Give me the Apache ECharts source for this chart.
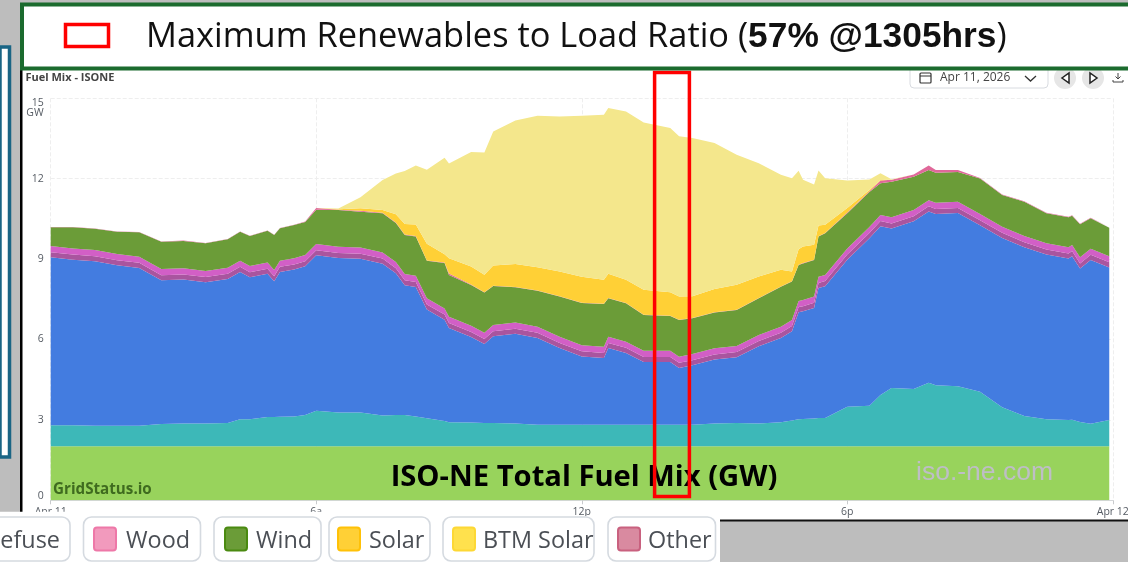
<!DOCTYPE html>
<html><head><meta charset="utf-8">
<style>html,body{margin:0;padding:0;background:#bdbdbd}#c{width:1128px;height:562px}</style>
<script src="https://cdn.jsdelivr.net/npm/echarts@6/dist/echarts.min.js"></script></head>
<body><div id="c"></div>
<script>
const hours=[0,.5,1,1.5,2,2.5,3,3.5,4,4.28,4.5,4.9,5.05,5.18,5.5,5.75,6,6.5,7,7.5,7.8,8,8.25,8.5,8.9,9,9.5,9.8,10,10.5,11,11.5,12,12.5,12.6,13,13.4,14,14.2,14.5,15,15.5,16,16.5,16.75,16.9,17,17.25,17.35,17.5,18,18.5,18.75,19,19.5,19.84,20,20.5,21,21.5,22,22.5,23,23.08,23.26,23.5,23.92];
const nuclear=[2.02,2.02,2.02,2.02,2.02,2.02,2.02,2.02,2.02,2.02,2.02,2.02,2.02,2.02,2.02,2.02,2.02,2.02,2.02,2.02,2.02,2.02,2.02,2.02,2.02,2.02,2.02,2.02,2.02,2.02,2.02,2.02,2.02,2.02,2.02,2.02,2.02,2.02,2.02,2.02,2.02,2.02,2.02,2.02,2.02,2.02,2.02,2.02,2.02,2.02,2.02,2.02,2.02,2.02,2.02,2.02,2.02,2.02,2.02,2.02,2.02,2.02,2.02,2.02,2.02,2.02,2.02];
const hydro=[.78,.78,.76,.76,.76,.83,.85,.85,.86,1,1,1.09,1.09,1.1,1.11,1.16,1.32,1.26,1.26,1.14,1.16,1.16,1.11,1.04,.94,.89,.88,.86,.86,.85,.8,.8,.8,.8,.8,.8,.8,.8,.8,.8,.85,.86,.85,.89,.96,1,1.01,1.03,1.05,1.05,1.47,1.51,1.91,2.17,2.13,2.37,2.27,2.24,2.03,1.45,1.13,1,.98,.99,.9,.84,.98];
const gas=[6.27,6.18,6.14,5.99,5.89,5.36,5.37,5.27,5.38,5.5,5.3,5.34,5.06,5.4,5.48,5.55,5.8,5.76,5.73,5.67,5.29,4.84,4.83,4.06,3.78,3.52,3.19,2.95,3.24,3.34,3.24,2.86,2.55,2.49,2.86,2.68,2.34,2.34,2.12,2.22,2.38,2.46,2.88,3.15,3.33,4,4.02,4.13,4.85,4.92,5.49,6.25,6.3,5.95,6.26,6.39,6.39,6.46,6.21,6.32,6.29,6.15,6.02,6.1,5.73,6.11,5.69];
const refuse=[.19,.19,.19,.19,.19,.19,.19,.19,.19,.19,.19,.19,.19,.19,.19,.19,.19,.19,.19,.19,.19,.19,.19,.19,.19,.19,.19,.19,.19,.19,.19,.19,.19,.19,.19,.19,.19,.19,.19,.19,.19,.19,.19,.19,.19,.19,.19,.19,.19,.19,.19,.19,.19,.19,.19,.19,.19,.19,.19,.19,.19,.19,.19,.19,.19,.19,.19];
const wood=[.23,.23,.23,.23,.23,.23,.23,.23,.23,.23,.23,.23,.23,.23,.23,.23,.23,.23,.23,.23,.23,.23,.23,.23,.23,.23,.23,.23,.23,.23,.23,.23,.23,.23,.23,.23,.23,.23,.23,.23,.23,.23,.23,.23,.23,.23,.23,.23,.23,.23,.23,.23,.23,.23,.23,.23,.23,.23,.23,.23,.23,.23,.23,.23,.23,.23,.23];
const wind=[.7,.79,.79,.83,.91,1.02,1.02,1.03,1.06,1.08,1.12,1.19,1.31,1.21,1.24,1.23,1.28,1.37,1.34,1.46,1.46,1.46,1.46,1.4,1.69,1.56,1.52,1.5,1.46,1.32,1.34,1.5,1.57,1.59,1.44,1.43,1.33,1.3,1.37,1.33,1.34,1.34,1.37,1.49,1.43,1.34,1.37,1.37,1.5,1.55,1.31,1.3,1.18,1.33,1.24,1.12,1.12,1.11,1.33,1.18,1.28,1.12,1.12,1.09,1.23,1.13,1.06];
const other=[.01,.01,.01,.01,.01,.01,.01,.01,.01,.01,.01,.01,.01,.01,.01,.02,.07,.01,.03,.02,.02,.02,.02,.01,.02,.05,.02,.01,.01,.01,.01,.01,.01,.01,.01,.01,.01,.01,.01,.01,.01,.01,.01,.01,.01,.01,.01,.01,.01,.01,.03,.03,.1,.07,.09,.17,.1,.07,.02,.02,.02,.02,.02,.02,.02,.02,.02];
const solar=[0,0,0,0,0,0,0,0,0,0,0,0,0,0,0,0,0,.02,.1,.1,.3,.39,.43,.62,.31,.57,.67,.66,.75,.86,.87,.93,.97,.9,.9,.87,.94,.87,.86,.81,.86,.93,.8,.62,.37,.58,.62,.56,.4,.31,.17,.05,.02,0,0,0,0,0,0,0,0,0,0,0,0,0,0];
const btmSolar=[0,0,0,0,0,0,0,0,0,0,0,0,0,0,0,0,0,.03,.41,1.12,1.52,1.98,2.2,2.76,3.6,3.54,4.28,4.56,5,5.35,5.65,5.78,6.01,6.16,6.19,6.28,6.24,6.13,5.98,5.91,5.45,4.85,4.23,3.55,3.48,2.93,2.49,2.24,2.06,1.74,1.02,.39,.25,.02,0,0,0,0,0,0,0,0,0,0,0,0,0];
const xTickLabels={0:'Apr 11',6:'6a',12:'12p',18:'6p',24:'Apr 12'};
const legendLabels=['Refuse','Wood','Wind','Solar','BTM Solar','Other'];

const S=[['Nuclear',nuclear,'#98d35c'],['Hydro',hydro,'#3db8b8'],['Natural Gas',gas,'#437ce0'],['Refuse',refuse,'#a9559f'],['Wood',wood,'#d25fc6'],['Wind',wind,'#6b9c38'],['Other',other,'#e0689a'],['Solar',solar,'#ffd036'],['BTM Solar',btmSolar,'#f4e78c']];
const series=S.map(([name,vals,color])=>({name,type:'line',stack:'fuel',showSymbol:false,symbol:'none',
  encode:{x:1,y:0},
  lineStyle:{width:0},areaStyle:{color,opacity:1},itemStyle:{color},animation:false,silent:true,
  data:vals.map((v,i)=>[v,hours[i]])}));

const txt='#555b63';
const FONT='"Open Sans","Noto Sans",sans-serif';
const g=[];
const rect=(x,y,w,h,fill,z,extra)=>g.push(Object.assign({type:'rect',shape:{x,y,width:w,height:h},style:{fill},z,silent:true},extra||{}));
// page furniture
rect(22,70,1106,450,'#fff',-20);
rect(20,70,2.5,446,'#000',-15);
rect(720,519.5,408,2,'#111',-15);
rect(0,47,9.5,410,'#fff',-20,{style:{fill:'#fff',stroke:'#1a6585',lineWidth:3.5}});
// header
rect(22,4.5,1110,64,'#fff',50,{style:{fill:'#fff',stroke:'#1b6b2e',lineWidth:4}});
rect(65.5,24.5,43,22,'#fff',51,{style:{fill:'#fff',stroke:'#ff0000',lineWidth:3.5}});
g.push({type:'text',x:146,y:37,z:52,silent:true,style:{text:'{a|Maximum Renewables to Load Ratio (}{b|57% @1305hrs}{a|)}',
  verticalAlign:'middle',rich:{a:{font:'34.4px '+FONT,fill:'#111'},b:{font:'bold 35.3px "Liberation Sans",Arial,sans-serif',fill:'#111'}}}});
// selection box
rect(654.6,72.5,34.8,424,'transparent',40,{style:{fill:'transparent',stroke:'#ff0000',lineWidth:3.5}});
// toolbar
g.push({type:'text',x:25.5,y:78,z:30,silent:true,style:{text:'Fuel Mix - ISONE',font:'bold 11px "Open Sans",sans-serif',fill:'#444',verticalAlign:'middle'}});
rect(910,66,138,22,'#fff',20,{shape:{x:910,y:66,width:138,height:22,r:4},style:{fill:'#fff',stroke:'#d8dbe0',lineWidth:1}});
g.push({type:'text',x:940,y:78,z:30,silent:true,style:{text:'Apr 11, 2026',font:'12px "Open Sans",sans-serif',fill:'#444',verticalAlign:'middle'}});
rect(920,73,11,10,'#fff',30,{shape:{x:920,y:73,width:11,height:10,r:1},style:{fill:'#fff',stroke:'#333',lineWidth:1.2}});
rect(920,75.5,11,1,'#333',31);
g.push({type:'polyline',z:30,silent:true,shape:{points:[[1025,76],[1030.5,81],[1036,76]]},style:{stroke:'#333',lineWidth:1.3,fill:'none'}});
[1065,1093].forEach((cx,i)=>{
  g.push({type:'circle',z:20,silent:true,shape:{cx,cy:78,r:11},style:{fill:'#e6e6e6'}});
  const p=i==0?[[1069,73],[1069,83],[1062,78]]:[[1090,73],[1090,83],[1097,78]];
  g.push({type:'polygon',z:30,silent:true,shape:{points:p},style:{fill:'#fff',stroke:'#222',lineWidth:1.5}});
});
g.push({type:'polyline',z:30,silent:true,shape:{points:[[1113,80],[1113,82],[1123,82],[1123,80]]},style:{stroke:'#444',lineWidth:1,fill:'none'}});
g.push({type:'polyline',z:30,silent:true,shape:{points:[[1118,73],[1118,79]]},style:{stroke:'#444',lineWidth:1,fill:'none'}});
g.push({type:'polyline',z:30,silent:true,shape:{points:[[1115.5,76.5],[1118,79],[1120.5,76.5]]},style:{stroke:'#444',lineWidth:1,fill:'none'}});
// overlays on the plot
g.push({type:'text',x:53,y:490,z:30,silent:true,style:{text:'GridStatus.io',font:'bold 15.2px "Open Sans",sans-serif',fill:'#3f6b1f',verticalAlign:'middle'}});
g.push({type:'text',x:584,y:477.5,z:30,silent:true,style:{text:'ISO-NE Total Fuel Mix (GW)',font:'bold 29.2px "Open Sans",sans-serif',fill:'#000',align:'center',verticalAlign:'middle'}});
g.push({type:'text',x:916,y:473,z:30,silent:true,style:{text:'iso.-ne.com',font:'26.5px "Liberation Sans",Arial,sans-serif',fill:'#bebec6',verticalAlign:'middle'}});
// pasted legend strip
rect(0,511.7,440,51,'#fff',60);
rect(440,516,280,47,'#fff',60);
const leg=[[-30,70,0,60],[83.5,200.5,93,126],[214,321,224,256],[329,430,337,369],[443,594,452,483],[608,715.5,617,648]];
const swatch=[null,['#f29abd','#ee78a8'],['#6b9c38','#4a8a10'],['#ffd036','#ffc107'],['#ffe14d','#fdd835'],['#d98aa0','#c9617f']];
legendLabels.forEach((t,i)=>{
  const [a,b,sx,tx]=leg[i];
  rect(a,517,b-a,44,'#fff',61,{shape:{x:a,y:517,width:b-a,height:44,r:8},style:{fill:'#fff',stroke:'#d5dae0',lineWidth:1.6}});
  if(swatch[i]) rect(sx+1,527.5,22,23,swatch[i][0],62,{shape:{x:sx+1,y:527.5,width:22,height:23,r:3},style:{fill:swatch[i][0],stroke:swatch[i][1],lineWidth:2}});
  g.push(i==0
   ?{type:'text',x:60,y:541,z:63,silent:true,style:{text:t,font:'23.4px "Open Sans",sans-serif',fill:'#4b4f55',align:'right',verticalAlign:'middle'}}
   :{type:'text',x:tx,y:541,z:63,silent:true,style:{text:t,font:'23.4px "Open Sans",sans-serif',fill:'#4b4f55',verticalAlign:'middle'}});
});

const chart=echarts.init(document.getElementById('c'));
chart.setOption({
  backgroundColor:'#bdbdbd',animation:false,
  grid:{left:50.7,right:15.2,top:98.3,bottom:61.7,outerBoundsMode:'none'},
  xAxis:{type:'value',min:0,max:24,interval:6,
    axisLine:{show:true,lineStyle:{color:'#d5d7da'}},
    axisTick:{show:true,length:4,lineStyle:{color:'#c8cacd'}},
    axisLabel:{color:txt,fontSize:10.5,fontFamily:'"Open Sans",sans-serif',margin:6.5,formatter:v=>xTickLabels[v]},
    splitLine:{show:true,lineStyle:{color:'#eeeeee',type:'dashed'}}},
  yAxis:{type:'value',min:0,max:15,interval:3,
    axisLine:{show:false},axisTick:{show:false},
    axisLabel:{color:txt,fontSize:10.5,lineHeight:9.5,fontFamily:'"Open Sans",sans-serif',margin:7,
      verticalAlignMinLabel:'bottom',verticalAlignMaxLabel:'top',
      formatter:v=>v===15?'15\nGW':String(v)},
    splitLine:{show:true,lineStyle:{color:'#eeeeee',type:'dashed'}}},
  series,
  graphic:{elements:g}
});
</script></body></html>
